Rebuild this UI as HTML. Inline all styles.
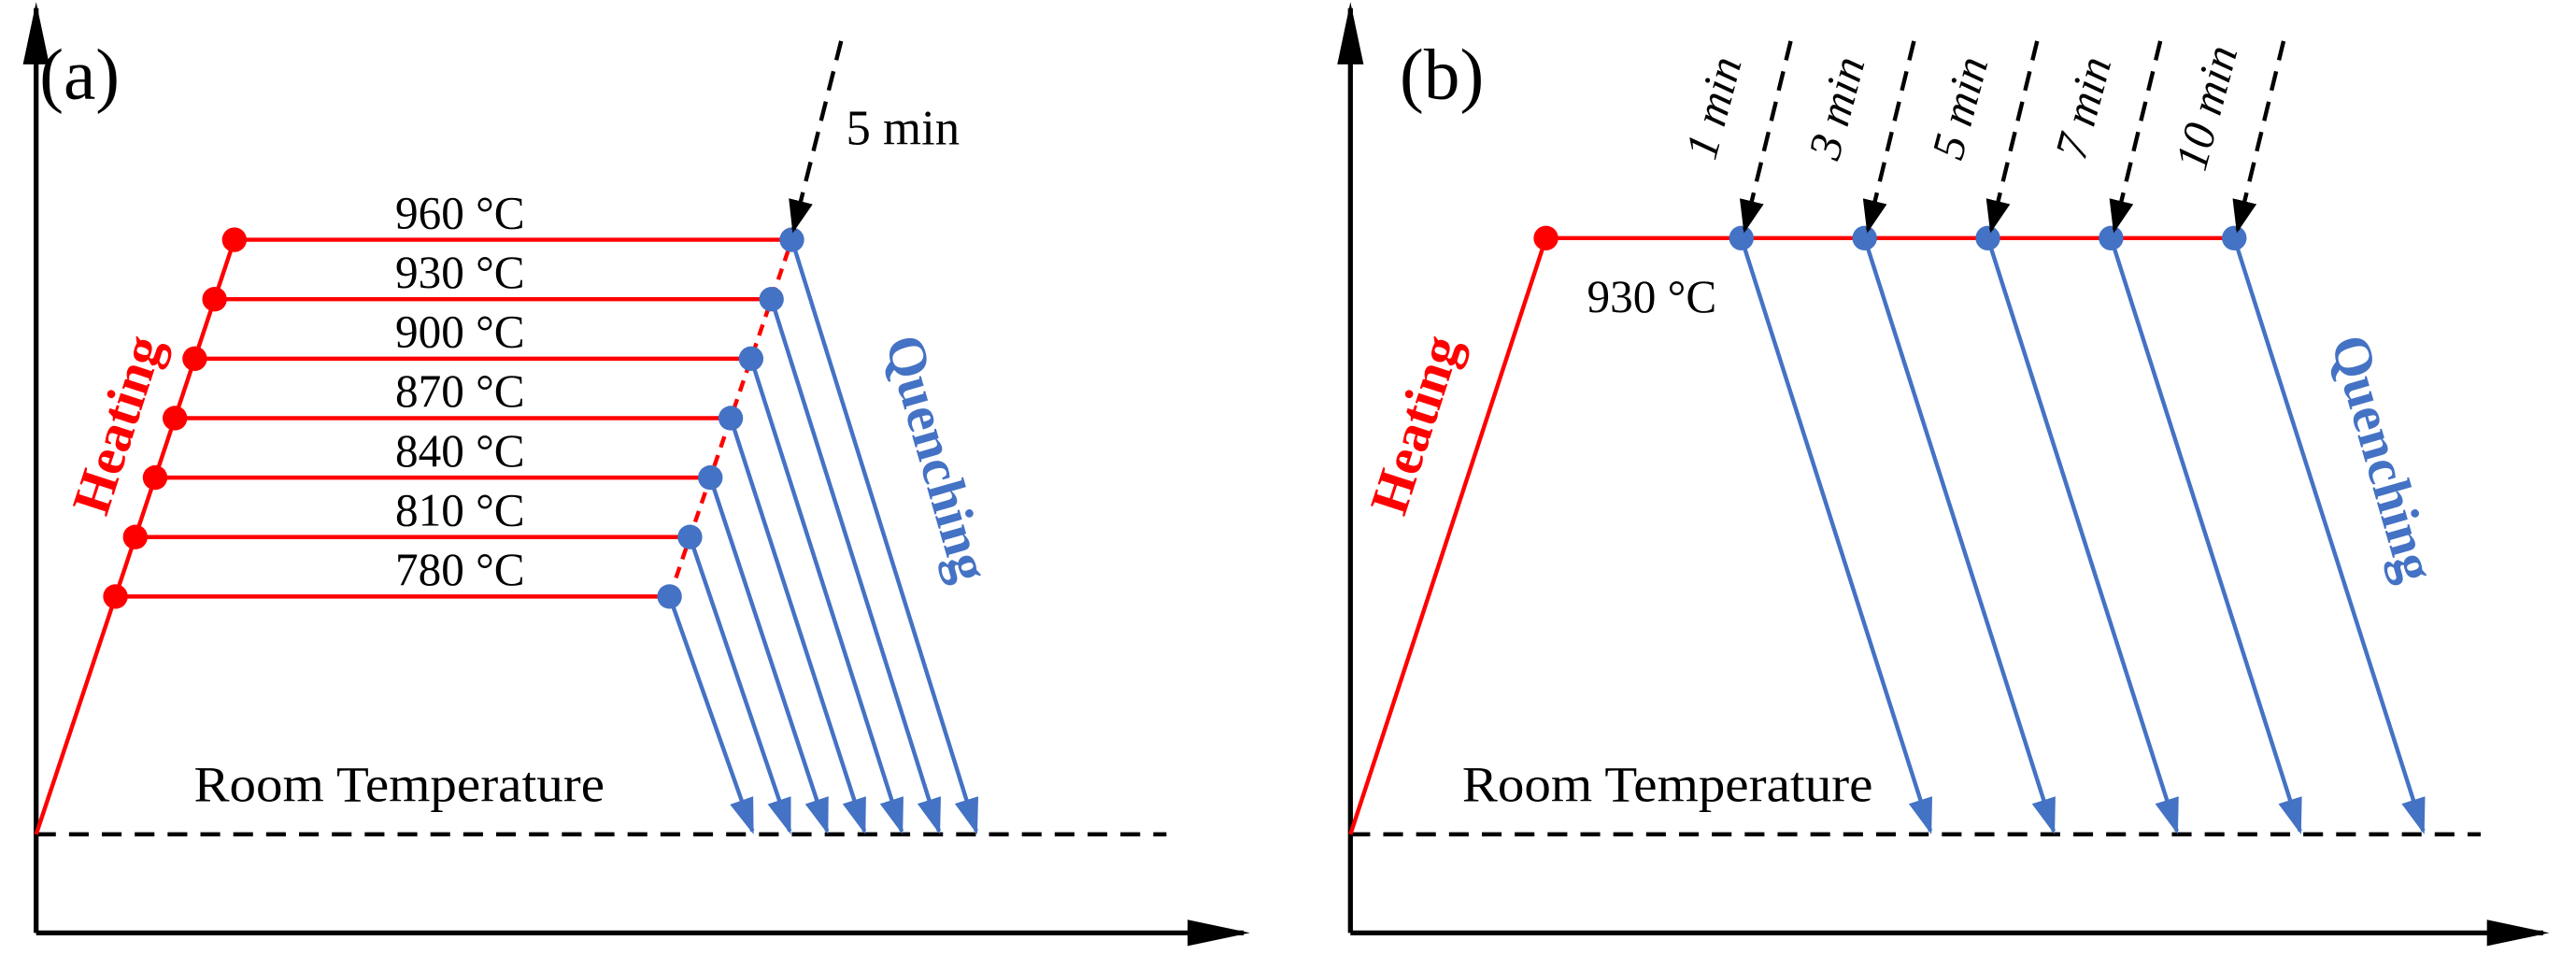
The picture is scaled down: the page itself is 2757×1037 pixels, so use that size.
<!DOCTYPE html>
<html><head><meta charset="utf-8"><style>
html,body{margin:0;padding:0;background:#fff;}
svg{display:block;font-family:"Liberation Serif",serif;}
</style></head><body>
<svg id="chart" width="2757" height="1037" viewBox="0 0 1568 590" preserveAspectRatio="none" xmlns="http://www.w3.org/2000/svg">
<defs>
<marker id="abig" viewBox="0 0 10 10" refX="9" refY="5" markerWidth="38" markerHeight="20" markerUnits="userSpaceOnUse" orient="auto" preserveAspectRatio="none"><path d="M0,1 L10,5 L0,9 z" fill="#000"/></marker>
<marker id="abl" viewBox="0 0 10 10" refX="9" refY="5" markerWidth="22" markerHeight="15" markerUnits="userSpaceOnUse" orient="auto" preserveAspectRatio="none"><path d="M0,0 L10,5 L0,10 z" fill="#4472c4"/></marker>
<marker id="ak" viewBox="0 0 10 10" refX="9" refY="5" markerWidth="20" markerHeight="15" markerUnits="userSpaceOnUse" orient="auto" preserveAspectRatio="none"><path d="M0,0 L10,5 L0,10 z" fill="#000"/></marker>
</defs>
<g id="g"></g>
</svg>
<script>
// Panel (a) data
const tempsA = [960, 930, 900, 870, 840, 810, 780];
const holdA = ["5 min"];
// Panel (b) data
const tempB = [930];
const timesB = ["1 min", "3 min", "5 min", "7 min", "10 min"];
const timesBval = [1, 3, 5, 7, 10];

const NS = "http://www.w3.org/2000/svg";
const g = document.getElementById('g');
function el(tag, attrs, parent) {
  const e = document.createElementNS(NS, tag);
  for (const k in attrs) e.setAttribute(k, attrs[k]);
  (parent || g).appendChild(e);
  return e;
}
const RED = "#ff0000", BLUE = "#4472c4";

const yA = t => 508 - (t - 660) * (508 - 146) / (960 - 660);
const heatX = y => 22 + (508 - y) * (143 - 22) / (508 - 145);
const quenchX = y => 409 + (359 - y) * (482 - 409) / (359 - 146);

function axes(x0, xEnd, dashEnd, name) {
  let a = el('line', {x1:x0, y1:568, x2:x0, y2:5, stroke:'#000', 'stroke-width':3, 'marker-end':'url(#abig)'});
  
  
  a = el('line', {x1:x0, y1:568, x2:xEnd, y2:568, stroke:'#000', 'stroke-width':3, 'marker-end':'url(#abig)'});
  
  
  a = el('line', {x1:x0, y1:508, x2:dashEnd, y2:508, stroke:'#000', 'stroke-width':2.5, 'stroke-dasharray':'12 8'});
  
  
}
function text(x, y, s, attrs, name) {
  const t = el('text', Object.assign({x:x, y:y}, attrs));
  t.textContent = s;
  
  
  return t;
}

axes(22, 757, 710, 'panel-a');
text(24, 60, "(a)", {'font-size':44}, 'panel-a-label');
text(118, 488, "Room Temperature", {'font-size':31, textLength:250, lengthAdjust:'spacingAndGlyphs'}, 'panel-a-room-temperature-label');

let minY = Math.min(...tempsA.map(yA)), maxY = Math.max(...tempsA.map(yA));
let e = el('line', {x1:22, y1:508, x2:heatX(minY), y2:minY, stroke:RED, 'stroke-width':2.5});


e = el('line', {x1:quenchX(maxY), y1:maxY, x2:quenchX(minY), y2:minY, stroke:RED, 'stroke-width':2.5, 'stroke-dasharray':'7 5'});



tempsA.forEach((t, i) => {
  const y = yA(t), xl = heatX(y), xr = quenchX(y);
  let l = el('line', {x1:xl, y1:y, x2:xr, y2:y, stroke:RED, 'stroke-width':2.5});
  
  
  const xe = 458 + (tempsA.length - 1 - i) * 22.7;
  l = el('line', {x1:xr, y1:y, x2:xe, y2:506, stroke:BLUE, 'stroke-width':2.5, 'marker-end':'url(#abl)'});
  
  
  let c = el('circle', {cx:xl, cy:y, r:7.5, fill:RED});
  
  
  c = el('circle', {cx:xr, cy:y, r:7.5, fill:BLUE});
  
  
  text(280, y - 7, t + " °C", {'font-size':28, 'text-anchor':'middle'}, 'temp-label-' + t);
});
e = el('line', {x1:512, y1:25, x2:483, y2:140, stroke:'#000', 'stroke-width':2.5, 'stroke-dasharray':'12 7', 'marker-end':'url(#ak)'});


text(515, 88, holdA[0], {'font-size':30}, 'panel-a-hold-time-label');
text(0, 0, "Heating", {'font-size':33, 'font-weight':'bold', fill:RED, 'text-anchor':'middle', transform:'translate(82,262) rotate(-72)'}, 'panel-a-heating-label');
text(0, 0, "Quenching", {'font-size':33, 'font-weight':'bold', fill:BLUE, 'text-anchor':'middle', transform:'translate(560,282) rotate(74)'}, 'panel-a-quenching-label');

// Panel (b)
axes(822, 1548, 1510, 'panel-b');
text(852, 60, "(b)", {'font-size':44}, 'panel-b-label');
text(890, 488, "Room Temperature", {'font-size':31, textLength:250, lengthAdjust:'spacingAndGlyphs'}, 'panel-b-room-temperature-label');
const yb = 145;
const xB = i => 1060 + i * 75;
e = el('line', {x1:822, y1:508, x2:941, y2:yb, stroke:RED, 'stroke-width':2.5});


e = el('line', {x1:941, y1:yb, x2:xB(timesBval.length - 1), y2:yb, stroke:RED, 'stroke-width':2.5});


e = el('circle', {cx:941, cy:yb, r:7.5, fill:RED});


text(966, 190, tempB[0] + " °C", {'font-size':28}, 'panel-b-temp-label');
timesBval.forEach((m, i) => {
  const x = xB(i);
  let l = el('line', {x1:x, y1:yb, x2:x + 115, y2:506, stroke:BLUE, 'stroke-width':2.5, 'marker-end':'url(#abl)'});
  
  
  let c = el('circle', {cx:x, cy:yb, r:7.5, fill:BLUE});
  
  
  l = el('line', {x1:x + 30, y1:25, x2:x + 2, y2:140, stroke:'#000', 'stroke-width':2.5, 'stroke-dasharray':'12 7', 'marker-end':'url(#ak)'});
  
  
  text(0, 0, timesB[i], {'font-size':28, 'font-style':'italic', 'text-anchor':'middle', transform:'translate(' + (x - 8) + ',68) rotate(-75)'}, 'panel-b-time-label-' + m);
});
text(0, 0, "Heating", {'font-size':33, 'font-weight':'bold', fill:RED, 'text-anchor':'middle', transform:'translate(872,262) rotate(-72)'}, 'panel-b-heating-label');
text(0, 0, "Quenching", {'font-size':33, 'font-weight':'bold', fill:BLUE, 'text-anchor':'middle', transform:'translate(1440,282) rotate(74)'}, 'panel-b-quenching-label');
</script>
</body></html>
